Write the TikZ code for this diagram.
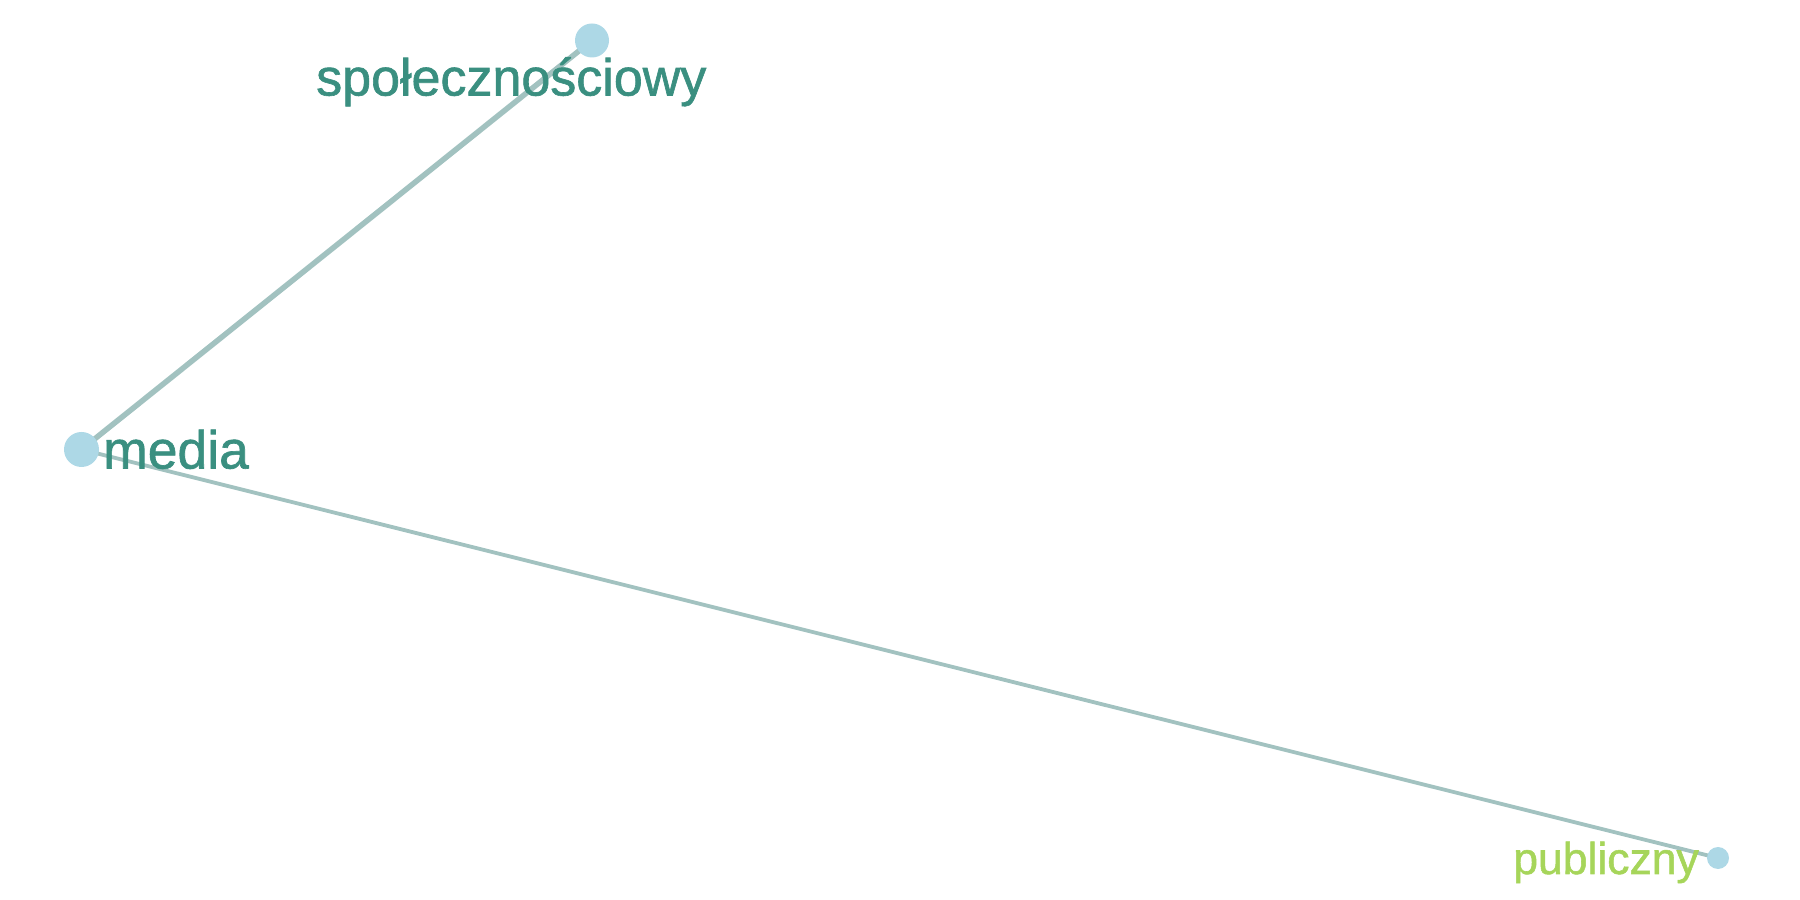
\documentclass[tikz,border=0pt]{standalone}
\usepackage{fontspec}
\setmainfont{Liberation Sans}[FakeBold=1.2,BoldFont=Liberation Sans]
\usetikzlibrary{backgrounds}
\definecolor{nodeblue}{HTML}{ADD8E6}
\definecolor{edgecol}{HTML}{A2C2C0}
\definecolor{teal}{HTML}{3A8F80}
\definecolor{lgreen}{HTML}{A6D55A}
\begin{document}
\begin{tikzpicture}[x=1pt,y=1pt,
  vtx/.style={circle,fill=nodeblue,inner sep=0pt,minimum size=#1},
  lbl/.style={inner sep=0pt,font=\fontsize{#1}{#1}\selectfont\bfseries},
  edge/.style={draw=edgecol,line width=#1}]
\useasboundingbox (0,0) rectangle (1800,900);
\node[vtx=34pt] (spol) at (592,859.5) {};
\node[vtx=35pt] (media) at (81.5,450.5) {};
\node[vtx=22pt] (publ) at (1718,42) {};
\begin{scope}[on background layer]
\draw[edge=5.5pt] (spol.center) -- (media.center);
\draw[edge=3.8pt] (media.center) -- (publ.center);
\end{scope}
\node[lbl=52pt,text=teal,anchor=base west] (tspol) at (316,804.5) {społecznościowy};
\node[lbl=53.5pt,text=teal,anchor=base west] (tmedia) at (103,431.5) {media};
\node[lbl=44.5pt,text=lgreen,anchor=base east] (tpubl) at (1699,26) {publiczny};
\end{tikzpicture}
\end{document}
